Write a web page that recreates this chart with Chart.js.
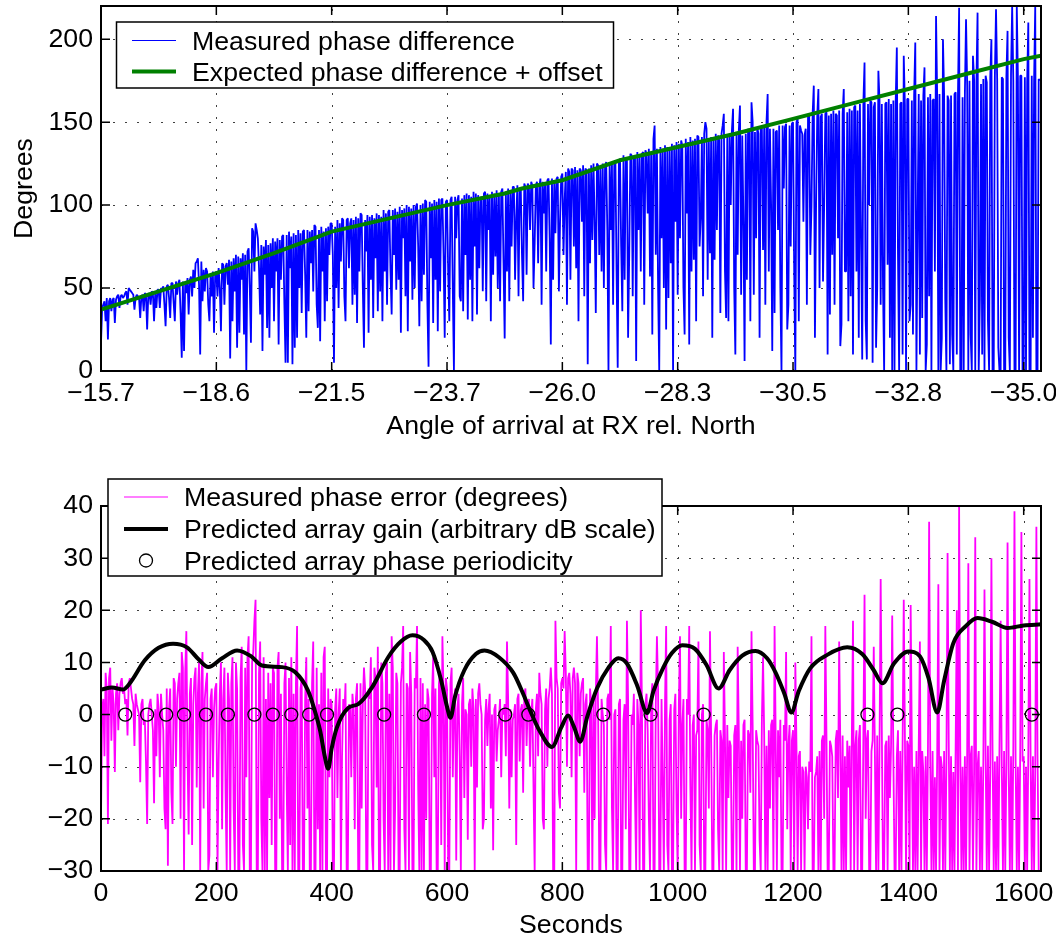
<!DOCTYPE html>
<html>
<head>
<meta charset="utf-8">
<script src="https://cdn.jsdelivr.net/npm/chart.js@4/dist/chart.umd.min.js"></script>
<style>
body{margin:0;background:#fff;overflow:hidden;}
#wrap{position:relative;width:1056px;height:942px;}
canvas{position:absolute;left:0;}
#phaseCanvas{top:0;}
#errorCanvas{top:450px;}
</style>
</head>
<body>
<div id="wrap">
<canvas id="phaseCanvas" width="1056" height="450"></canvas>
<canvas id="errorCanvas" width="1056" height="492"></canvas>
</div>
<script>
/* ---------- data ---------- */

const sampleStep=2;   // seconds between measured samples
const xMax=1630;

const tickSeconds=[0,200,400,600,800,1000,1200,1400,1600];
const angleLabels=["\u221215.7","\u221218.6","\u221221.5","\u221223.7","\u221226.0","\u221228.3","\u221230.5","\u221232.8","\u221235.0"];
const phaseTicks=[0,50,100,150,200];
const errorTicks=[-30,-20,-10,0,10,20,30,40];

// measured phase difference, degrees (one row per 100 s)
const measuredPhase=[
17,38,40,42,30,44,19,42,44,36,43,44,29,43,45,46,38,45,46,44,45,47,48,40,50,49,48,47,46,37,44,46,45,44,32,45,46,36,47,46,25,46,47,40,48,47,30,47,38,49,
49,38,50,49,51,40,27,51,52,44,32,53,53,41,30,54,46,53,55,35,8,54,12,53,47,56,34,55,57,45,61,50,65,66,68,52,10,66,42,61,48,62,60,40,30,58,45,60,23,59,
60,45,62,50,24,65,64,40,63,65,52,67,7.5,66,30,68,48,70,14,69,23,68,55,71,22,70,0,72,74,50,17,86,84,60,89,85,80,62,34,76,12,75,58,79,26,76,20,77,50,80,
30,78,60,80,16,79,55,81,82,40,5,82,5,84,62,81,4,83,14,82,20,85,50,83,35,84,85,58,20,85,36,84,65,85,48,88,87,40,26,85,18,87,60,84,30,86,42,87,70,89,
89,70,5,87,50,91,38,89,66,92,91,45,30,91,92,62,89,92,40,91,46,93,29,92,60,95,94,50,14,91,72,94,23,93,55,94,32,92,68,95,36,94,48,93,30,97,60,95,40,96,
97,60,34,97,70,98,49,96,55,99,23,97,80,98,45,100,24,99,66,98,43,100,50,99,101,75,27,100,42,101,58,103,102,40,2.5,102,68,101,29,103,55,102,24,104,48,103,104,70,20,102,
103,60,30,103,105,50,0.5,105,80,103,106,45,42,104,36,106,70,107,31,106,55,105,30,108,75,107,34,106,62,104,105,48,107,108,42,107,85,106,30,108,58,107,69,109,50,106,42,108,110,65,
19.6,108,60,110,42,109,75,111,111,55,92,112,45,110,109,70,42,113,111,58,113,111,85,114,112,50,77,112,114,65,111,116,40,114,95,113,60,115,116,80,16,116,55,115,83,116,117,48,90,117,
119,70,103,120,40,122,120,55,122,121,75,123,62,121,30,122,121,90,124,45,122,121,4,122,65,124,79,125,91,35,125,124,70,122,60,125,50,123,126,85,0,126,85,125,40,124,127,60,2,125,
128,75,36,130,55,128,127,20,71,131,130,45,128,130,6,132,85,130,60,131,132,40,133,131,95,134,57,132,22,140,148,70,134,50,0,135,80,134,50,136,25,135,44,134,65,137,0,136,90,138,
46,137,80,139,136,50,22,140,95,138,16,141,60,139,67,140,30,142,141,75,93,141,45,143,150,146,55,139,71,141,20,140,67,143,85,142,139,35,143,148,155,60,32,141,30,143,100,145,158,50,
10,144,70,145,160,46,142,90,6,143,55,146,144,30,162,150,46,144,80,147,143,20,147,146,73,148,40,150,167,60,146,100,12,146,35,144,145,85,148,50,0,148,110,147,149,25,40,148,75,149,
150,60,0,150,152,30,148,145,143,90,142,146,40,153,154,70,99,155,172,20,100,154,170,50,153,155,54,100,155,156,10,154,34,155,70,157,40,155,154,80,157,15,28,155,170,60,60,156,30,158,
45,157,10,159,160,60,157,20,161,80,7,162,186,30,7,161,100,163,162,5,159,162,14,50,181,163,40,161,52,0,161,162,64,164,20,161,0,163,0,162,195,70,0,161,162,10,190,160,0,164,
164,30,40,163,22,166,198,0,90,167,10,163,32,166,183,0,16,165,45,167,0,163,164,60,214,165,0,167,0,20,200,166,43,0,166,163,4,166,22,0,167,168,10,166,219,0,0,165,0,167,
212,172,0,175,22,0,190,176,0,174,216,0,43,173,10,176,0,178,174,30,0,177,200,0,0,178,218,176,14,0,0,177,176,0,0,178,205,20,0,179,220,175,0,0,220,176,0,178,178,0,
0,177,0,174,210,0,0,178,20,175,220,0,0,176,175
];

// expected phase difference + offset
const expectedT=[0,100,200,300,400,500,600,700,730,800,900,1000,1100,1200,1300,1400,1500,1600,1630];
const expectedPhase=[37,48,59,71,84,92,100,107,110,115,127,135,143,152,161,170,179,188,190];

// measured phase error, degrees (one row per 100 s)
const measuredError=[
-20,1,3,-8,8,5,-21,7,9,-5,5,2,-11,4,6,-3,4,6,7,4,5,2,3,-4,6,7,5,3,2,-6,4,2,1,0,-13,2,3,-2,-1,-9,-21,0,2,3,0,-3,-17,1,-8,4,
1,-12,4,0,-3,-18,-22,5,-29,1,5,-15,-21,7,6,-10,3,6,8,-20,12,9,-30,8,16,-8,-23,4,7,-25,2,7,9,-14,4,10,-30,6,12,-18,3,6,8,-30,-27,3,5,-12,1,5,
6,-30,-9,4,10,-22,3,9,-15,-30,8,3,-30,6,11,-18,-30,10,5,-30,-30,7,13,-25,-30,9,-12,11,15,-30,-30,10,12,18,22,-30,-30,8,14,-20,-30,11,-30,3,-30,8,-16,6,-25,9,
8,-30,-30,9,12,-20,4,-30,-30,6,10,-14,-30,7,-25,11,-30,4,-30,6,17,-30,-30,5,7,-30,-30,3,11,-18,3,-30,-30,6,14,-30,-30,9,-22,2,-30,8,-30,11,13,-30,-30,5,-12,3,
2,-30,-30,1,5,-16,0,5,-30,-8,3,0,6,-30,-30,2,1,-12,4,1,-22,3,6,-30,-30,6,-18,2,9,5,-30,-30,5,3,11,-25,-30,9,7,-14,13,-30,-30,10,6,-20,-30,8,10,-30,
4,-30,15,9,-30,-18,8,6,-30,-30,6,9,17,-22,-30,6,5,-30,12,4,-30,-30,7,5,17,-14,-30,7,-30,6,-30,2,-20,5,3,-30,-30,4,11,-12,5,-30,-30,6,8,-25,15,4,-30,7,
5,-30,-30,6,9,-12,2,5,-28,1,4,-8,-30,2,7,-16,1,0,-24,2,3,-10,5,1,-30,3,-14,4,6,2,0,-22,-20,-1,3,-6,1,4,-18,0,-26,1,2,-9,-3,-1,3,-12,1,0,
2,-8,14,3,-18,1,-12,-1,0,2,-25,3,4,-9,1,2,-15,4,5,-6,2,3,-10,0,3,-14,-30,1,4,-8,8,4,2,-20,-22,1,5,-10,3,5,9,4,-30,-30,18,7,5,-15,-18,6,
7,5,16,8,-10,7,8,4,-12,7,9,6,-30,8,6,-8,4,6,7,-15,2,4,-30,-30,5,2,-30,3,-20,4,15,1,-30,-30,3,0,-2,-25,-30,3,4,-1,17,-18,-30,0,1,-30,-30,2,
3,-30,-30,-1,2,-22,18,3,-30,-30,0,-2,4,-16,-30,3,-2,-30,20,2,-30,-30,2,4,-3,-20,-30,3,6,-30,-30,2,15,5,-30,-30,3,-12,-30,2,17,-25,-30,-1,2,-30,-30,1,4,-18,
-30,2,15,-20,-2,3,-30,-30,3,0,17,-14,-30,-2,0,-30,-4,-3,14,-25,-30,0,2,-30,-30,-1,-3,-18,16,-4,-30,-30,-4,-2,-1,-22,-30,-3,-5,-30,12,-4,-30,-2,-16,-5,-6,-30,-30,-4,
-2,-30,13,-3,-30,-5,-20,-2,-1,-30,-30,-3,-4,-15,16,-2,-30,-30,-3,-5,-6,-24,-30,-1,11,-4,-30,-6,-30,-3,-18,-2,-1,-30,17,-5,-30,-3,-12,-1,-30,-30,-2,-5,12,-22,-6,-2,-30,-5,
-3,-30,10,-6,-30,-8,-7,-30,-10,-11,-30,-10,-12,-22,-9,-11,15,-30,-30,-12,-11,-8,-30,-7,-30,-5,-4,-20,17,-4,-30,-30,-5,-6,-8,-30,-30,-5,-3,-16,14,-6,-30,-4,-30,-8,-30,-5,-14,-6,
-30,-4,18,-30,-6,-3,-30,-5,-2,-30,-30,-4,23,-20,-5,-3,-30,-30,-7,-5,13,-8,-30,-4,-30,-6,26,-3,-30,-30,-6,-5,-30,-4,-16,-6,19,-8,-30,-30,-8,-3,-30,-7,-30,-6,22,-4,-30,-5,
-6,-30,21,-5,-30,-10,-30,-7,-30,-6,14,-30,-7,-11,-30,-8,-30,-6,37,-9,-30,-7,-30,-12,-30,-8,25,-30,-8,-10,-30,-7,-30,-9,31,-5,-30,-8,-30,-11,-30,-6,20,-30,40,-7,-30,-10,-30,-8,
-30,-7,29,-30,-8,-6,-30,-11,34,-30,-10,-7,-30,-10,-30,-9,24,-8,-30,-6,-30,-11,30,-7,-30,-9,-30,-8,-30,-6,18,-10,-30,-7,-30,-9,33,-11,-30,-8,-30,-6,39,-9,-30,-10,-30,-7,35,-9,
-8,-30,-10,-30,-7,26,-9,-30,-8,-30,-11,36,-8,-30,-30
];

// predicted array gain, arbitrary dB
const gainT=[0,19,38,50,76,100,125,149,170,186,210,236,260,279,314,337,359,370,380,388,394,400,409,429,446,470,498,520,540,560,575,590,600,606,614,630,650,665,690,715,732,744,760,782,798,810,820,831,843,860,880,897,912,930,947,958,975,990,1008,1030,1050,1071,1090,1112,1135,1155,1170,1185,1197,1210,1230,1260,1294,1320,1340,1355,1375,1400,1420,1435,1450,1462,1478,1500,1520,1545,1572,1600,1630];
const gainDb=[4.8,5.2,4.8,6,10.4,12.8,13.6,12.9,10.5,9.1,10.8,12.3,11.2,9.4,9.1,8.1,4.6,1,-3.1,-8,-10.4,-6.5,-2.5,1.3,2,5.2,11,14,15.2,14.3,12,6.5,1.5,-0.6,3.5,8.5,11.6,12.3,11,8,4,0.8,-3,-6.2,-2.5,-0.2,-2.3,-5.2,-0.5,5,9,10.8,9.8,5.5,0.3,4.5,9,11.8,13.3,12.6,9.5,5,8.5,11.3,12.2,10.8,8,4,0.4,4.5,8.9,11.5,12.9,11.6,8.5,6,9.8,12.1,11.2,7,0.4,6.5,13.7,17,18.5,17.8,16.6,17.1,17.3];

// predicted array phase periodicity, seconds
const periodicityT=[42,80,113,144,182,220,266,298,330,361,392,491,560,701,741,871,953,1045,1329,1381,1614];

/* ---------- helpers ---------- */

const FONT_SIZE=26.7;
const FONT_FAMILY='"Liberation Sans", Arial, Helvetica, sans-serif';
Chart.defaults.font.family=FONT_FAMILY;
Chart.defaults.font.size=FONT_SIZE;
Chart.defaults.color='#000';

const minus=v=>String(v).replace('-','\u2212');
const sampled=vals=>vals.map((v,i)=>({x:i*sampleStep,y:v}));
const pairs=(ts,vs)=>ts.map((t,i)=>({x:t,y:vs[i]}));

function axisX(labelFn,title,titlePad,height){
  return {
    type:'linear',min:0,max:xMax,
    afterBuildTicks:s=>{s.ticks=tickSeconds.map(v=>({value:v}));},
    afterFit:s=>{s.height=height;s.paddingLeft=0;s.paddingRight=0;},
    ticks:{autoSkip:false,maxRotation:0,padding:7,callback:labelFn},
    grid:{display:false,drawTicks:false},
    border:{display:false},
    title:{display:true,text:title,padding:{top:0,bottom:titlePad}}
  };
}

function axisY(min,max,ticks,title){
  return {
    min:min,max:max,
    afterBuildTicks:s=>{s.ticks=ticks.map(v=>({value:v}));},
    afterFit:s=>{s.width=101;s.paddingTop=0;s.paddingBottom=0;},
    ticks:{autoSkip:false,padding:8,callback:v=>minus(v)},
    grid:{display:false,drawTicks:false},
    border:{display:false},
    title:{display:!!title,text:title||'',padding:{top:9,bottom:0}}
  };
}

// dotted grid under the data, box with inward ticks on top of it
const boxAxes={
  id:'boxAxes',
  beforeDatasetsDraw(chart){
    const {ctx,chartArea:a,scales:{x,y}}=chart;
    ctx.save();
    ctx.strokeStyle='#404040';ctx.lineWidth=1;ctx.setLineDash([2,10]);
    ctx.beginPath();
    x.ticks.forEach(t=>{
      const px=Math.round(x.getPixelForValue(t.value))+0.5;
      if(px<a.left+2||px>a.right-2)return;
      ctx.moveTo(px,a.bottom);ctx.lineTo(px,a.top);
    });
    y.ticks.forEach(t=>{
      const py=Math.round(y.getPixelForValue(t.value))+0.5;
      if(py<a.top+2||py>a.bottom-2)return;
      ctx.moveTo(a.left,py);ctx.lineTo(a.right,py);
    });
    ctx.stroke();
    ctx.restore();
  },
  afterDatasetsDraw(chart){
    const {ctx,chartArea:a,scales:{x,y}}=chart;
    const len=9;
    ctx.save();
    ctx.setLineDash([]);ctx.strokeStyle='#000';ctx.lineWidth=1.5;
    ctx.beginPath();
    x.ticks.forEach(t=>{
      const px=x.getPixelForValue(t.value);
      ctx.moveTo(px,a.bottom);ctx.lineTo(px,a.bottom-len);
      ctx.moveTo(px,a.top);ctx.lineTo(px,a.top+len);
    });
    y.ticks.forEach(t=>{
      const py=y.getPixelForValue(t.value);
      ctx.moveTo(a.left,py);ctx.lineTo(a.left+len,py);
      ctx.moveTo(a.right,py);ctx.lineTo(a.right-len,py);
    });
    ctx.stroke();
    ctx.lineWidth=2;
    ctx.strokeRect(a.left,a.top,a.right-a.left,a.bottom-a.top);
    ctx.restore();
  }
};

// boxed legend drawn last, over the axes
function boxLegend(box,rows){
  return {
    id:'boxLegend',
    afterDraw(chart){
      const ctx=chart.ctx;
      ctx.save();
      ctx.fillStyle='#fff';
      ctx.fillRect(box.x,box.y,box.w,box.h);
      ctx.strokeStyle='#000';ctx.lineWidth=1.5;
      ctx.strokeRect(box.x,box.y,box.w,box.h);
      rows.forEach(r=>{
        ctx.beginPath();
        if(r.circle){
          ctx.arc((box.s0+box.s1)/2,r.y,6.5,0,Math.PI*2);
          ctx.strokeStyle='#000';ctx.lineWidth=1.3;
        }else{
          ctx.moveTo(box.s0,r.y);ctx.lineTo(box.s1,r.y);
          ctx.strokeStyle=r.color;ctx.lineWidth=r.width;
        }
        ctx.stroke();
        ctx.fillStyle='#000';ctx.font=FONT_SIZE+'px '+FONT_FAMILY;ctx.textBaseline='alphabetic';
        ctx.fillText(r.text,box.tx,r.y+9);
      });
      ctx.restore();
    }
  };
}

const common={
  responsive:false,animation:false,events:[],devicePixelRatio:1,
  plugins:{legend:{display:false},tooltip:{enabled:false}}
};

/* ---------- phase difference vs angle ---------- */

new Chart(document.getElementById('phaseCanvas'),{
  type:'line',
  data:{datasets:[
    {data:pairs(expectedT,expectedPhase),borderColor:'#008000',borderWidth:4,pointRadius:0,order:0},
    {data:sampled(measuredPhase),borderColor:'#0000ff',borderWidth:1.8,borderJoinStyle:'bevel',pointRadius:0,order:1}
  ]},
  options:Object.assign({},common,{
    layout:{padding:{left:0,right:15,top:6,bottom:0}},
    scales:{
      x:axisX((v,i)=>angleLabels[i],'Angle of arrival at RX rel. North',7,79),
      y:axisY(0,220,phaseTicks,'Degrees')
    }
  }),
  plugins:[boxAxes,boxLegend({x:116.5,y:22,w:497,h:66,s0:132,s1:176,tx:192},[
    {y:40.5,color:'#0000ff',width:1.2,text:'Measured phase difference'},
    {y:71.5,color:'#008000',width:4,text:'Expected phase difference + offset'}
  ])]
});

/* ---------- phase error vs time ---------- */

new Chart(document.getElementById('errorCanvas'),{
  type:'line',
  data:{datasets:[
    {data:periodicityT.map(t=>({x:t,y:0})),showLine:false,pointRadius:6.5,pointBorderWidth:1.3,
     pointBorderColor:'#000',pointBackgroundColor:'rgba(0,0,0,0)',order:0},
    {data:pairs(gainT,gainDb),borderColor:'#000',borderWidth:4,cubicInterpolationMode:'monotone',
     borderJoinStyle:'round',pointRadius:0,order:1},
    {data:sampled(measuredError),borderColor:'#ff00ff',borderWidth:1.8,borderJoinStyle:'bevel',pointRadius:0,order:2}
  ]},
  options:Object.assign({},common,{
    layout:{padding:{left:0,right:15,top:56,bottom:0}},
    scales:{
      x:axisX(v=>String(v),'Seconds',0,71),
      y:axisY(-30,40,errorTicks,'')
    }
  }),
  plugins:[boxAxes,boxLegend({x:108,y:29,w:554,h:97,s0:124,s1:168,tx:184},[
    {y:47,color:'#ff00ff',width:1.2,text:'Measured phase error (degrees)'},
    {y:79,color:'#000',width:4,text:'Predicted array gain (arbitrary dB scale)'},
    {y:110.5,circle:true,text:'Predicted array phase periodicity'}
  ])]
});
</script>
</body>
</html>
